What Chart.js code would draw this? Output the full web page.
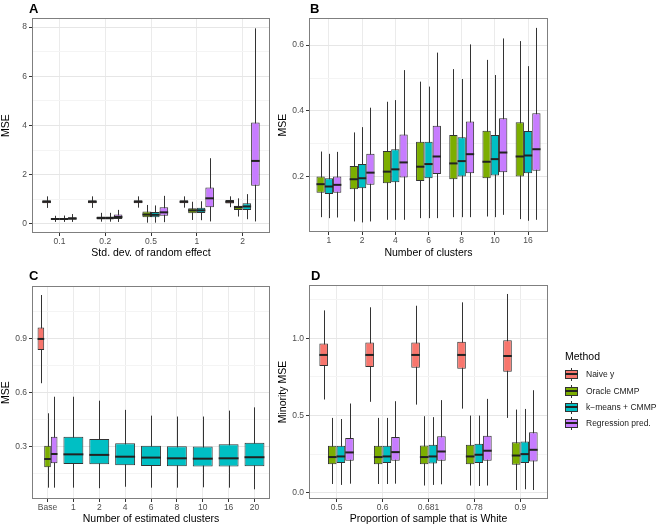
<!DOCTYPE html>
<html>
<head>
<meta charset="utf-8">
<script src="https://cdn.jsdelivr.net/npm/chart.js@4"></script>
<style>
  body { margin: 0; background: #fff; font-family: "Liberation Sans", Arial, sans-serif; }
  #page { position: relative; width: 658px; height: 527px; overflow: hidden; }
  canvas { position: absolute; }
  .tag { position: absolute; font-weight: bold; font-size: 13px; line-height: 13px; color: #000; }
  .ltitle { position: absolute; left: 565px; top: 350px; font-size: 10.5px; line-height: 12px; }
  .litem { position: absolute; left: 586px; font-size: 8.5px; line-height: 13px; color: #1a1a1a; white-space: nowrap; }
  .key { position: absolute; left: 565px; width: 13px; height: 13px; }
  .key .wh { position: absolute; left: 6px; top: 0; width: 1px; height: 13px; background: #333; }
  .key .bx { position: absolute; left: 0; top: 2px; width: 11px; height: 7px; border: 1px solid #333; }
  .key .md { position: absolute; left: 0; top: 5px; width: 13px; height: 2px; background: #222; }
</style>
</head>
<body>
<div id="page">
  <canvas id="chartA" width="300" height="260" style="left:0;top:0"></canvas>
  <canvas id="chartB" width="300" height="260" style="left:277px;top:0"></canvas>
  <canvas id="chartC" width="300" height="267" style="left:0;top:260px"></canvas>
  <canvas id="chartD" width="290" height="267" style="left:277px;top:260px"></canvas>
  <div class="tag" style="left:29px;top:2px">A</div>
  <div class="tag" style="left:310px;top:2px">B</div>
  <div class="tag" style="left:29px;top:269px">C</div>
  <div class="tag" style="left:311px;top:269px">D</div>
  <div id="legend"></div>
</div>
<script>
'use strict';

const methodNames = ['Naive y', 'Oracle CMMP', 'k\u2212means + CMMP', 'Regression pred.'];
const methodColors = ['#F8766D', '#7CAE00', '#00BFC4', '#C77CFF'];

// each box is [min, q1, median, q3, max]

// A: std. dev. of random effect
const sdLabels = ['0.1', '0.2', '0.5', '1', '2'];
const aNaive = [[0.65, 0.84, 0.9, 0.96, 1.12], [0.65, 0.84, 0.9, 0.96, 1.12], [0.66, 0.84, 0.9, 0.96, 1.12], [0.66, 0.84, 0.9, 0.96, 1.12], [0.68, 0.83, 0.9, 0.97, 1.12]];
const aOracle = [[0.08, 0.16, 0.2, 0.24, 0.33], [0.09, 0.18, 0.24, 0.3, 0.45], [0.05, 0.27, 0.38, 0.5, 0.77], [0.16, 0.43, 0.55, 0.64, 0.9], [0.3, 0.57, 0.68, 0.74, 1.04]];
const aKmeans = [[0.08, 0.16, 0.2, 0.24, 0.34], [0.09, 0.18, 0.24, 0.3, 0.45], [0.05, 0.27, 0.37, 0.48, 0.75], [0.15, 0.44, 0.55, 0.66, 0.92], [0.19, 0.57, 0.71, 0.84, 1.21]];
const aRegression = [[0.08, 0.17, 0.22, 0.27, 0.4], [0.08, 0.2, 0.28, 0.38, 0.57], [0.07, 0.33, 0.47, 0.68, 1.14], [0.1, 0.68, 1.04, 1.48, 2.67], [0.1, 1.55, 2.56, 4.12, 7.95]];
const aTicks = [0, 2, 4, 6, 8];
const aTickLabels = ['0', '2', '4', '6', '8'];
const aMinor = [1, 3, 5, 7];

// B: number of clusters
const clusterLabels = ['1', '2', '4', '6', '8', '10', '16'];
const bOracle = [[0.078, 0.152, 0.178, 0.201, 0.277], [0.065, 0.163, 0.193, 0.233, 0.335], [0.07, 0.181, 0.216, 0.279, 0.428], [0.075, 0.188, 0.231, 0.307, 0.489], [0.078, 0.193, 0.241, 0.327, 0.527], [0.08, 0.196, 0.246, 0.34, 0.555], [0.072, 0.201, 0.262, 0.366, 0.612]];
const bKmeans = [[0.075, 0.148, 0.171, 0.196, 0.27], [0.062, 0.166, 0.196, 0.239, 0.351], [0.07, 0.184, 0.223, 0.284, 0.433], [0.075, 0.196, 0.239, 0.307, 0.474], [0.078, 0.201, 0.248, 0.32, 0.497], [0.078, 0.204, 0.254, 0.327, 0.509], [0.067, 0.211, 0.265, 0.339, 0.536]];
const bRegression = [[0.077, 0.152, 0.176, 0.201, 0.276], [0.065, 0.176, 0.213, 0.27, 0.41], [0.07, 0.198, 0.244, 0.329, 0.524], [0.075, 0.209, 0.262, 0.355, 0.577], [0.078, 0.211, 0.269, 0.368, 0.602], [0.085, 0.214, 0.274, 0.378, 0.62], [0.07, 0.219, 0.284, 0.393, 0.652]];
const bTicks = [0.2, 0.4, 0.6];
const bTickLabels = ['0.2', '0.4', '0.6'];
const bMinor = [0.1, 0.3, 0.5];

// C: number of estimated clusters
const estLabels = ['Base', '1', '2', '4', '6', '8', '10', '16', '20'];
const cNaive = [[0.654, 0.839, 0.9, 0.963, 1.144], null, null, null, null, null, null, null, null];
const cOracle = [[0.074, 0.187, 0.233, 0.307, 0.487], null, null, null, null, null, null, null, null];
const cKmeans = [null, [0.074, 0.206, 0.259, 0.357, 0.579], [0.071, 0.204, 0.256, 0.344, 0.557], [0.079, 0.198, 0.246, 0.32, 0.506], [0.074, 0.194, 0.241, 0.307, 0.474], [0.074, 0.193, 0.237, 0.304, 0.469], [0.076, 0.191, 0.235, 0.302, 0.469], [0.074, 0.191, 0.237, 0.315, 0.502], [0.065, 0.193, 0.243, 0.324, 0.52]];
const cRegression = [[0.074, 0.209, 0.261, 0.357, 0.579], null, null, null, null, null, null, null, null];
const cTicks = [0.3, 0.6, 0.9];
const cTickLabels = ['0.3', '0.6', '0.9'];
const cMinor = [0.15, 0.45, 0.75, 1.05];

// D: proportion of sample that is White
const propLabels = ['0.5', '0.6', '0.681', '0.78', '0.9'];
const dNaive = [[0.604, 0.82, 0.892, 0.966, 1.18], [0.589, 0.814, 0.892, 0.972, 1.2], [0.571, 0.81, 0.892, 0.972, 1.21], [0.545, 0.803, 0.892, 0.978, 1.232], [0.485, 0.784, 0.885, 0.987, 1.286]];
const dOracle = [[0.058, 0.186, 0.232, 0.305, 0.485], [0.058, 0.186, 0.232, 0.305, 0.485], [0.048, 0.186, 0.232, 0.307, 0.496], [0.048, 0.186, 0.236, 0.311, 0.5], [0.019, 0.182, 0.242, 0.327, 0.539]];
const dKmeans = [[0.052, 0.193, 0.236, 0.305, 0.478], [0.058, 0.193, 0.236, 0.305, 0.485], [0.052, 0.19, 0.236, 0.311, 0.49], [0.045, 0.193, 0.247, 0.318, 0.5], [0.024, 0.193, 0.251, 0.333, 0.543]];
const dRegression = [[0.06, 0.208, 0.262, 0.355, 0.578], [0.06, 0.208, 0.264, 0.362, 0.593], [0.056, 0.208, 0.268, 0.366, 0.6], [0.048, 0.208, 0.273, 0.37, 0.608], [0.019, 0.203, 0.279, 0.392, 0.664]];
const dTicks = [0, 0.5, 1];
const dTickLabels = ['0.0', '0.5', '1.0'];
const dMinor = [0.25, 0.75, 1.25];


// whiskers under the boxes, medians over them, panel frame on top
const boxPlugin = {
  id: 'boxWhiskers',
  beforeDatasetsDraw(chart) {
    const ctx = chart.ctx;
    const y = chart.scales.y;
    ctx.save();
    ctx.strokeStyle = '#333';
    ctx.lineWidth = 1;
    chart.data.datasets.forEach((ds, i) => {
      chart.getDatasetMeta(i).data.forEach((bar, j) => {
        const s = ds.stats[j];
        if (!s) return;
        const x = Math.round(bar.x) + 0.5;
        ctx.beginPath();
        ctx.moveTo(x, y.getPixelForValue(s[0]));
        ctx.lineTo(x, y.getPixelForValue(s[4]));
        ctx.stroke();
      });
    });
    ctx.restore();
  },
  afterDatasetsDraw(chart) {
    const ctx = chart.ctx;
    const y = chart.scales.y;
    ctx.save();
    ctx.strokeStyle = '#222';
    ctx.lineWidth = 2;
    chart.data.datasets.forEach((ds, i) => {
      chart.getDatasetMeta(i).data.forEach((bar, j) => {
        const s = ds.stats[j];
        if (!s) return;
        const py = y.getPixelForValue(s[2]);
        ctx.beginPath();
        ctx.moveTo(bar.x - bar.width / 2, py);
        ctx.lineTo(bar.x + bar.width / 2, py);
        ctx.stroke();
      });
    });
    const a = chart.chartArea;
    ctx.strokeStyle = '#7f7f7f';
    ctx.lineWidth = 1;
    ctx.strokeRect(a.left + 0.5, a.top + 0.5, a.right - a.left - 1, a.bottom - a.top - 1);
    ctx.restore();
  }
};

function renderPanel(canvasId, labels, series, methodIdx, ySpec, xTitle, yTitle, box) {
  const datasets = series.map((stats, k) => ({
    label: methodNames[methodIdx[k]],
    data: stats.map(s => (s ? [s[1], s[3]] : null)),
    stats: stats,
    backgroundColor: methodColors[methodIdx[k]],
    borderColor: '#333',
    borderWidth: 1,
    borderSkipped: false,
    categoryPercentage: box.catPct,
    barPercentage: 1,
    skipNull: true
  }));

  const allTicks = ySpec.ticks.concat(ySpec.minor).sort((p, q) => p - q);
  const isMajor = v => ySpec.ticks.some(t => Math.abs(t - v) < 1e-9);

  const config = {
    type: 'bar',
    data: { labels: labels, datasets: datasets },
    options: {
      responsive: false,
      animation: false,
      layout: { padding: { left: 0, top: box.top, right: box.right, bottom: 0 } },
      plugins: { legend: { display: false }, tooltip: { enabled: false } },
      scales: {
        x: {
          type: 'category',
          offset: true,
          afterBuildTicks: (axis) => {
            // ggplot style discrete expansion: 0.6 of a category on each side
            axis._startValue = axis.min - 0.6;
            axis._valueRange = axis.max - axis.min + 1.2;
          },
          afterFit: (axis) => { axis.height = box.xHeight; },
          border: { display: false },
          grid: { offset: false, color: '#ebebeb', tickColor: '#333', tickLength: 3, tickWidth: 1 },
          ticks: { color: '#4d4d4d', font: { size: 8.5 }, padding: 1, autoSkip: false, maxRotation: 0 },
          title: { display: true, text: xTitle, color: '#000', font: { size: 10.5 }, padding: { top: 0, bottom: box.titlePad } }
        },
        y: {
          min: ySpec.min,
          max: ySpec.max,
          afterBuildTicks: (axis) => { axis.ticks = allTicks.map(v => ({ value: v })); },
          afterFit: (axis) => { axis.width = 32; },
          border: { display: false },
          grid: {
            color: c => (isMajor(c.tick.value) ? '#e6e6e6' : '#f4f4f4'),
            tickColor: c => (isMajor(c.tick.value) ? '#333' : 'rgba(0,0,0,0)'),
            tickLength: 3,
            tickWidth: 1
          },
          ticks: {
            color: '#4d4d4d',
            font: { size: 8.5 },
            padding: 2,
            autoSkip: false,
            callback: (v) => {
              const i = ySpec.ticks.findIndex(t => Math.abs(t - v) < 1e-9);
              return i >= 0 ? ySpec.labels[i] : '';
            }
          },
          title: { display: true, text: yTitle, color: '#000', font: { size: 10.5 }, padding: 0 }
        }
      }
    },
    plugins: [boxPlugin]
  };
  return new Chart(document.getElementById(canvasId), config);
}

renderPanel('chartA', sdLabels, [aNaive, aOracle, aKmeans, aRegression], [0, 1, 2, 3],
  { min: -0.37, max: 8.37, ticks: aTicks, labels: aTickLabels, minor: aMinor },
  'Std. dev. of random effect', 'MSE',
  { top: 18, right: 30, xHeight: 27, catPct: 0.75, titlePad: 1 });

renderPanel('chartB', clusterLabels, [bOracle, bKmeans, bRegression], [1, 2, 3],
  { min: 0.033, max: 0.682, ticks: bTicks, labels: bTickLabels, minor: bMinor },
  'Number of clusters', 'MSE',
  { top: 18, right: 29, xHeight: 28, catPct: 0.75, titlePad: 1 });

renderPanel('chartC', estLabels, [cNaive, cOracle, cKmeans, cRegression], [0, 1, 2, 3],
  { min: 0.011, max: 1.194, ticks: cTicks, labels: cTickLabels, minor: cMinor },
  'Number of estimated clusters', 'MSE',
  { top: 26, right: 30, xHeight: 28, catPct: 0.77, titlePad: 2 });

renderPanel('chartD', propLabels, [dNaive, dOracle, dKmeans, dRegression], [0, 1, 2, 3],
  { min: -0.039, max: 1.344, ticks: dTicks, labels: dTickLabels, minor: dMinor },
  'Proportion of sample that is White', 'Minority MSE',
  { top: 25, right: 19, xHeight: 28, catPct: 0.75, titlePad: 2 });

// legend
const legendElem = document.getElementById('legend');
let html = '<div class="ltitle">Method</div>';
const legendY = [374, 391, 407, 423];
methodNames.forEach((name, i) => {
  const top = legendY[i] - 6.5;
  html += '<div class="key" style="top:' + top + 'px"><div class="wh"></div>' +
    '<div class="bx" style="background:' + methodColors[i] + '"></div><div class="md"></div></div>' +
    '<div class="litem" style="top:' + top + 'px">' + name + '</div>';
});
legendElem.innerHTML = html;
</script>
</body>
</html>
